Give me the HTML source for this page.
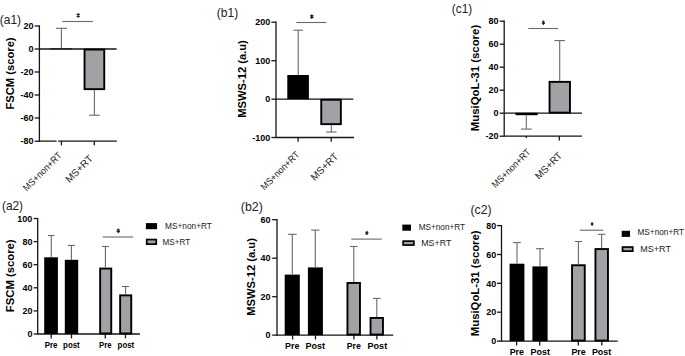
<!DOCTYPE html>
<html><head><meta charset="utf-8"><title>Figure</title>
<style>
html,body{margin:0;padding:0;background:#fff;}
body{width:685px;height:356px;overflow:hidden;}
svg{display:block;}
text{font-family:"Liberation Sans", sans-serif;}
</style></head>
<body>
<svg width="685" height="356" viewBox="0 0 685 356">
<rect x="0" y="0" width="685" height="356" fill="#fff"/>
<line x1="39.40" y1="25.40" x2="39.40" y2="141.90" stroke="#151515" stroke-width="1.3"/>
<line x1="34.70" y1="26.00" x2="39.40" y2="26.00" stroke="#151515" stroke-width="1.3"/>
<text x="33.6" y="29.25" font-size="9" font-weight="bold" text-anchor="end" fill="#000">20</text>
<line x1="34.70" y1="49.00" x2="39.40" y2="49.00" stroke="#151515" stroke-width="1.3"/>
<text x="33.6" y="52.25" font-size="9" font-weight="bold" text-anchor="end" fill="#000">0</text>
<line x1="34.70" y1="72.00" x2="39.40" y2="72.00" stroke="#151515" stroke-width="1.3"/>
<text x="33.6" y="75.25" font-size="9" font-weight="bold" text-anchor="end" fill="#000">-20</text>
<line x1="34.70" y1="95.00" x2="39.40" y2="95.00" stroke="#151515" stroke-width="1.3"/>
<text x="33.6" y="98.25" font-size="9" font-weight="bold" text-anchor="end" fill="#000">-40</text>
<line x1="34.70" y1="118.00" x2="39.40" y2="118.00" stroke="#151515" stroke-width="1.3"/>
<text x="33.6" y="121.25" font-size="9" font-weight="bold" text-anchor="end" fill="#000">-60</text>
<line x1="34.70" y1="141.20" x2="39.40" y2="141.20" stroke="#151515" stroke-width="1.3"/>
<text x="33.6" y="144.45" font-size="9" font-weight="bold" text-anchor="end" fill="#000">-80</text>
<line x1="39.40" y1="49.00" x2="116.60" y2="49.00" stroke="#151515" stroke-width="1.3"/>
<line x1="39.40" y1="141.20" x2="116.80" y2="141.20" stroke="#151515" stroke-width="1.3"/>
<line x1="61.40" y1="141.20" x2="61.40" y2="145.30" stroke="#151515" stroke-width="1.3"/>
<line x1="94.30" y1="141.20" x2="94.30" y2="145.30" stroke="#151515" stroke-width="1.3"/>
<rect x="56.6" y="140" width="1.50" height="2.50" fill="#fff"/>
<rect x="50.4" y="48.1" width="21.90" height="1.40" fill="#222"/>
<line x1="61.40" y1="48.30" x2="61.40" y2="28.30" stroke="#686868" stroke-width="1.1"/>
<line x1="55.90" y1="28.30" x2="66.90" y2="28.30" stroke="#686868" stroke-width="1.1"/>
<rect x="84.55" y="49.55" width="19.70" height="39.60" fill="#a2a1a6" stroke="#000" stroke-width="1.9"/>
<line x1="94.40" y1="90.10" x2="94.40" y2="115.20" stroke="#686868" stroke-width="1.1"/>
<line x1="89.10" y1="115.20" x2="99.70" y2="115.20" stroke="#686868" stroke-width="1.1"/>
<line x1="62.30" y1="21.50" x2="92.90" y2="21.50" stroke="#686868" stroke-width="1.1"/>
<path d="M78.20 12.88L78.20 17.72M76.58 14.16L79.82 16.44M76.58 16.44L79.82 14.16" stroke="#222" stroke-width="1.1" fill="none"/>
<text x="14.0" y="73.5" font-size="11" font-weight="bold" text-anchor="middle" fill="#000" textLength="72.2" lengthAdjust="spacingAndGlyphs" transform="rotate(-90 14.0 73.5)">FSCM (score)</text>
<text x="-0.15" y="23.5" font-size="12.2" font-weight="normal" text-anchor="start" fill="#222" textLength="21.2" lengthAdjust="spacingAndGlyphs">(a1)</text>
<text x="62.45" y="156.0" font-size="9.5" font-weight="normal" text-anchor="end" fill="#222" textLength="50.4" lengthAdjust="spacingAndGlyphs" transform="rotate(-45 62.45 156.0)">MS+non+RT</text>
<text x="93.5" y="159.3" font-size="10" font-weight="normal" text-anchor="end" fill="#222" transform="rotate(-45 93.5 159.3)">MS+RT</text>
<line x1="276.00" y1="21.60" x2="276.00" y2="138.10" stroke="#151515" stroke-width="1.3"/>
<line x1="271.40" y1="22.20" x2="276.00" y2="22.20" stroke="#151515" stroke-width="1.3"/>
<text x="270.3" y="25.45" font-size="9" font-weight="bold" text-anchor="end" fill="#000">200</text>
<line x1="271.40" y1="60.70" x2="276.00" y2="60.70" stroke="#151515" stroke-width="1.3"/>
<text x="270.3" y="63.95" font-size="9" font-weight="bold" text-anchor="end" fill="#000">100</text>
<line x1="271.40" y1="99.20" x2="276.00" y2="99.20" stroke="#151515" stroke-width="1.3"/>
<text x="270.3" y="102.45" font-size="9" font-weight="bold" text-anchor="end" fill="#000">0</text>
<line x1="271.40" y1="137.50" x2="276.00" y2="137.50" stroke="#151515" stroke-width="1.3"/>
<text x="270.3" y="140.75" font-size="9" font-weight="bold" text-anchor="end" fill="#000">-100</text>
<line x1="276.00" y1="99.20" x2="353.30" y2="99.20" stroke="#151515" stroke-width="1.3"/>
<line x1="276.00" y1="137.50" x2="354.00" y2="137.50" stroke="#151515" stroke-width="1.3"/>
<line x1="298.10" y1="137.50" x2="298.10" y2="141.80" stroke="#151515" stroke-width="1.3"/>
<line x1="331.20" y1="137.50" x2="331.20" y2="141.80" stroke="#151515" stroke-width="1.3"/>
<rect x="287.3" y="75" width="21.60" height="24.20" fill="#000"/>
<line x1="298.20" y1="75.00" x2="298.20" y2="30.20" stroke="#686868" stroke-width="1.1"/>
<line x1="293.40" y1="30.20" x2="303.00" y2="30.20" stroke="#686868" stroke-width="1.1"/>
<rect x="321.25" y="99.75" width="19.60" height="24.40" fill="#a2a1a6" stroke="#000" stroke-width="1.9"/>
<line x1="331.30" y1="125.10" x2="331.30" y2="132.00" stroke="#686868" stroke-width="1.1"/>
<line x1="326.10" y1="132.00" x2="336.50" y2="132.00" stroke="#686868" stroke-width="1.1"/>
<line x1="296.40" y1="22.50" x2="326.40" y2="22.50" stroke="#686868" stroke-width="1.1"/>
<path d="M311.80 14.18L311.80 19.02M310.18 15.46L313.42 17.74M310.18 17.74L313.42 15.46" stroke="#222" stroke-width="1.1" fill="none"/>
<text x="245.8" y="79.0" font-size="11" font-weight="bold" text-anchor="middle" fill="#000" textLength="77.6" lengthAdjust="spacingAndGlyphs" transform="rotate(-90 245.8 79.0)">MSWS-12 (a.u)</text>
<text x="216.85" y="17.1" font-size="12.2" font-weight="normal" text-anchor="start" fill="#222" textLength="21.3" lengthAdjust="spacingAndGlyphs">(b1)</text>
<text x="300.05" y="155.2" font-size="9.5" font-weight="normal" text-anchor="end" fill="#222" textLength="50.4" lengthAdjust="spacingAndGlyphs" transform="rotate(-45 300.05 155.2)">MS+non+RT</text>
<text x="338.75" y="157.15" font-size="10" font-weight="normal" text-anchor="end" fill="#222" transform="rotate(-45 338.75 157.15)">MS+RT</text>
<line x1="504.20" y1="20.60" x2="504.20" y2="136.80" stroke="#151515" stroke-width="1.3"/>
<line x1="499.70" y1="21.20" x2="504.20" y2="21.20" stroke="#151515" stroke-width="1.3"/>
<text x="498.5" y="24.45" font-size="9" font-weight="bold" text-anchor="end" fill="#000">80</text>
<line x1="499.70" y1="44.20" x2="504.20" y2="44.20" stroke="#151515" stroke-width="1.3"/>
<text x="498.5" y="47.45" font-size="9" font-weight="bold" text-anchor="end" fill="#000">60</text>
<line x1="499.70" y1="67.20" x2="504.20" y2="67.20" stroke="#151515" stroke-width="1.3"/>
<text x="498.5" y="70.45" font-size="9" font-weight="bold" text-anchor="end" fill="#000">40</text>
<line x1="499.70" y1="90.20" x2="504.20" y2="90.20" stroke="#151515" stroke-width="1.3"/>
<text x="498.5" y="93.45" font-size="9" font-weight="bold" text-anchor="end" fill="#000">20</text>
<line x1="499.70" y1="113.20" x2="504.20" y2="113.20" stroke="#151515" stroke-width="1.3"/>
<text x="498.5" y="116.45" font-size="9" font-weight="bold" text-anchor="end" fill="#000">0</text>
<line x1="499.70" y1="136.20" x2="504.20" y2="136.20" stroke="#151515" stroke-width="1.3"/>
<text x="498.5" y="139.45" font-size="9" font-weight="bold" text-anchor="end" fill="#000">-20</text>
<line x1="504.20" y1="113.20" x2="582.00" y2="113.20" stroke="#151515" stroke-width="1.3"/>
<line x1="504.20" y1="136.20" x2="582.00" y2="136.20" stroke="#151515" stroke-width="1.3"/>
<line x1="526.30" y1="136.20" x2="526.30" y2="137.90" stroke="#151515" stroke-width="1.3"/>
<line x1="559.30" y1="136.20" x2="559.30" y2="140.50" stroke="#151515" stroke-width="1.3"/>
<rect x="515.5" y="112.8" width="22.20" height="2.40" fill="#000"/>
<line x1="526.30" y1="115.00" x2="526.30" y2="129.10" stroke="#686868" stroke-width="1.1"/>
<line x1="520.90" y1="129.10" x2="531.70" y2="129.10" stroke="#686868" stroke-width="1.1"/>
<rect x="549.55" y="81.85" width="20.40" height="30.80" fill="#a2a1a6" stroke="#000" stroke-width="1.9"/>
<line x1="559.70" y1="80.90" x2="559.70" y2="40.60" stroke="#686868" stroke-width="1.1"/>
<line x1="554.40" y1="40.60" x2="565.00" y2="40.60" stroke="#686868" stroke-width="1.1"/>
<line x1="528.30" y1="28.50" x2="558.20" y2="28.50" stroke="#686868" stroke-width="1.1"/>
<path d="M543.40 20.50L543.40 24.90M541.93 21.67L544.87 23.73M541.93 23.73L544.87 21.67" stroke="#222" stroke-width="1.1" fill="none"/>
<text x="479.1" y="78.0" font-size="11" font-weight="bold" text-anchor="middle" fill="#000" textLength="106.4" lengthAdjust="spacingAndGlyphs" transform="rotate(-90 479.1 78.0)">MusiQoL-31 (score)</text>
<text x="451.85" y="12.5" font-size="12.2" font-weight="normal" text-anchor="start" fill="#222" textLength="20.3" lengthAdjust="spacingAndGlyphs">(c1)</text>
<text x="531.2" y="152.75" font-size="9.5" font-weight="normal" text-anchor="end" fill="#222" textLength="50.4" lengthAdjust="spacingAndGlyphs" transform="rotate(-45 531.2 152.75)">MS+non+RT</text>
<text x="562.95" y="156.05" font-size="10" font-weight="normal" text-anchor="end" fill="#222" transform="rotate(-45 562.95 156.05)">MS+RT</text>
<line x1="37.70" y1="217.90" x2="37.70" y2="334.60" stroke="#151515" stroke-width="1.3"/>
<line x1="33.70" y1="218.50" x2="37.70" y2="218.50" stroke="#151515" stroke-width="1.3"/>
<text x="32.4" y="221.75" font-size="9" font-weight="bold" text-anchor="end" fill="#000">100</text>
<line x1="33.70" y1="241.60" x2="37.70" y2="241.60" stroke="#151515" stroke-width="1.3"/>
<text x="32.4" y="244.85" font-size="9" font-weight="bold" text-anchor="end" fill="#000">80</text>
<line x1="33.70" y1="264.70" x2="37.70" y2="264.70" stroke="#151515" stroke-width="1.3"/>
<text x="32.4" y="267.95" font-size="9" font-weight="bold" text-anchor="end" fill="#000">60</text>
<line x1="33.70" y1="287.80" x2="37.70" y2="287.80" stroke="#151515" stroke-width="1.3"/>
<text x="32.4" y="291.05" font-size="9" font-weight="bold" text-anchor="end" fill="#000">40</text>
<line x1="33.70" y1="310.90" x2="37.70" y2="310.90" stroke="#151515" stroke-width="1.3"/>
<text x="32.4" y="314.15" font-size="9" font-weight="bold" text-anchor="end" fill="#000">20</text>
<line x1="33.70" y1="334.00" x2="37.70" y2="334.00" stroke="#151515" stroke-width="1.3"/>
<text x="32.4" y="337.25" font-size="9" font-weight="bold" text-anchor="end" fill="#000">0</text>
<line x1="37.70" y1="334.00" x2="139.90" y2="334.00" stroke="#151515" stroke-width="1.3"/>
<line x1="51.20" y1="334.00" x2="51.20" y2="338.40" stroke="#151515" stroke-width="1.3"/>
<line x1="71.50" y1="334.00" x2="71.50" y2="338.40" stroke="#151515" stroke-width="1.3"/>
<line x1="105.30" y1="334.00" x2="105.30" y2="338.40" stroke="#151515" stroke-width="1.3"/>
<line x1="125.50" y1="334.00" x2="125.50" y2="338.40" stroke="#151515" stroke-width="1.3"/>
<rect x="44.2" y="257.3" width="13.70" height="76.70" fill="#000"/>
<rect x="64.8" y="259.8" width="13.40" height="74.20" fill="#000"/>
<rect x="100.15" y="268.55" width="11.10" height="64.90" fill="#a2a1a6" stroke="#000" stroke-width="1.9"/>
<rect x="120.15" y="295.35" width="11.10" height="38.10" fill="#a2a1a6" stroke="#000" stroke-width="1.9"/>
<line x1="51.30" y1="257.30" x2="51.30" y2="235.50" stroke="#686868" stroke-width="1.1"/>
<line x1="48.00" y1="235.50" x2="54.60" y2="235.50" stroke="#686868" stroke-width="1.1"/>
<line x1="71.40" y1="259.80" x2="71.40" y2="245.40" stroke="#686868" stroke-width="1.1"/>
<line x1="67.80" y1="245.40" x2="75.00" y2="245.40" stroke="#686868" stroke-width="1.1"/>
<line x1="105.40" y1="267.60" x2="105.40" y2="246.50" stroke="#686868" stroke-width="1.1"/>
<line x1="102.00" y1="246.50" x2="108.80" y2="246.50" stroke="#686868" stroke-width="1.1"/>
<line x1="125.60" y1="294.40" x2="125.60" y2="286.50" stroke="#686868" stroke-width="1.1"/>
<line x1="122.00" y1="286.50" x2="129.20" y2="286.50" stroke="#686868" stroke-width="1.1"/>
<line x1="102.70" y1="237.00" x2="133.10" y2="237.00" stroke="#686868" stroke-width="1.1"/>
<path d="M118.30 228.38L118.30 233.22M116.68 229.66L119.92 231.94M116.68 231.94L119.92 229.66" stroke="#222" stroke-width="1.1" fill="none"/>
<text x="51.1" y="347.6" font-size="9.6" font-weight="bold" text-anchor="middle" fill="#000" textLength="12.8" lengthAdjust="spacingAndGlyphs">Pre</text>
<text x="71.4" y="347.6" font-size="9.6" font-weight="bold" text-anchor="middle" fill="#000" textLength="16.6" lengthAdjust="spacingAndGlyphs">post</text>
<text x="105.35" y="347.6" font-size="9.6" font-weight="bold" text-anchor="middle" fill="#000" textLength="12.5" lengthAdjust="spacingAndGlyphs">Pre</text>
<text x="125.9" y="347.6" font-size="9.6" font-weight="bold" text-anchor="middle" fill="#000" textLength="16.6" lengthAdjust="spacingAndGlyphs">post</text>
<rect x="145.9" y="223.1" width="11.20" height="6.10" fill="#000"/>
<rect x="146.75" y="239.55" width="9.5" height="4.6" fill="#a2a1a6" stroke="#000" stroke-width="1.7"/>
<text x="165.1" y="228.8" font-size="8.6" font-weight="normal" text-anchor="start" fill="#222" textLength="46.8" lengthAdjust="spacingAndGlyphs">MS+non+RT</text>
<text x="162.5" y="244.6" font-size="8.6" font-weight="normal" text-anchor="start" fill="#222" textLength="27.6" lengthAdjust="spacingAndGlyphs">MS+RT</text>
<text x="14.2" y="275.8" font-size="11" font-weight="bold" text-anchor="middle" fill="#000" textLength="72.8" lengthAdjust="spacingAndGlyphs" transform="rotate(-90 14.2 275.8)">FSCM (score)</text>
<text x="1.95" y="210.0" font-size="12.2" font-weight="normal" text-anchor="start" fill="#222" textLength="21.1" lengthAdjust="spacingAndGlyphs">(a2)</text>
<line x1="277.00" y1="219.10" x2="277.00" y2="335.70" stroke="#151515" stroke-width="1.3"/>
<line x1="272.20" y1="219.70" x2="277.00" y2="219.70" stroke="#151515" stroke-width="1.3"/>
<text x="270.5" y="222.95" font-size="9" font-weight="bold" text-anchor="end" fill="#000">60</text>
<line x1="272.20" y1="258.20" x2="277.00" y2="258.20" stroke="#151515" stroke-width="1.3"/>
<text x="270.5" y="261.45" font-size="9" font-weight="bold" text-anchor="end" fill="#000">40</text>
<line x1="272.20" y1="296.70" x2="277.00" y2="296.70" stroke="#151515" stroke-width="1.3"/>
<text x="270.5" y="299.95" font-size="9" font-weight="bold" text-anchor="end" fill="#000">20</text>
<line x1="272.20" y1="335.10" x2="277.00" y2="335.10" stroke="#151515" stroke-width="1.3"/>
<text x="270.5" y="338.35" font-size="9" font-weight="bold" text-anchor="end" fill="#000">0</text>
<line x1="277.00" y1="335.10" x2="393.20" y2="335.10" stroke="#151515" stroke-width="1.3"/>
<line x1="292.60" y1="335.10" x2="292.60" y2="339.50" stroke="#151515" stroke-width="1.3"/>
<line x1="315.50" y1="335.10" x2="315.50" y2="339.50" stroke="#151515" stroke-width="1.3"/>
<line x1="353.90" y1="335.10" x2="353.90" y2="339.50" stroke="#151515" stroke-width="1.3"/>
<line x1="376.90" y1="335.10" x2="376.90" y2="339.50" stroke="#151515" stroke-width="1.3"/>
<rect x="284.7" y="274.6" width="15.10" height="60.50" fill="#000"/>
<rect x="307.9" y="267.4" width="15.00" height="67.70" fill="#000"/>
<rect x="347.45" y="282.95" width="12.50" height="51.60" fill="#a2a1a6" stroke="#000" stroke-width="1.9"/>
<rect x="370.55" y="317.95" width="12.40" height="16.60" fill="#a2a1a6" stroke="#000" stroke-width="1.9"/>
<line x1="292.30" y1="274.60" x2="292.30" y2="234.30" stroke="#686868" stroke-width="1.1"/>
<line x1="287.90" y1="234.30" x2="296.70" y2="234.30" stroke="#686868" stroke-width="1.1"/>
<line x1="315.30" y1="267.40" x2="315.30" y2="230.10" stroke="#686868" stroke-width="1.1"/>
<line x1="311.20" y1="230.10" x2="319.40" y2="230.10" stroke="#686868" stroke-width="1.1"/>
<line x1="353.80" y1="282.00" x2="353.80" y2="246.50" stroke="#686868" stroke-width="1.1"/>
<line x1="350.00" y1="246.50" x2="357.60" y2="246.50" stroke="#686868" stroke-width="1.1"/>
<line x1="376.80" y1="317.00" x2="376.80" y2="298.40" stroke="#686868" stroke-width="1.1"/>
<line x1="373.00" y1="298.40" x2="380.60" y2="298.40" stroke="#686868" stroke-width="1.1"/>
<line x1="351.30" y1="239.10" x2="381.70" y2="239.10" stroke="#686868" stroke-width="1.1"/>
<path d="M366.90 230.91L366.90 235.09M365.50 232.02L368.30 233.98M365.50 233.98L368.30 232.02" stroke="#222" stroke-width="1.1" fill="none"/>
<text x="292.25" y="349.4" font-size="9.6" font-weight="bold" text-anchor="middle" fill="#000" textLength="14.3" lengthAdjust="spacingAndGlyphs">Pre</text>
<text x="315.25" y="349.4" font-size="9.6" font-weight="bold" text-anchor="middle" fill="#000" textLength="19.5" lengthAdjust="spacingAndGlyphs">Post</text>
<text x="353.75" y="349.4" font-size="9.6" font-weight="bold" text-anchor="middle" fill="#000" textLength="14.1" lengthAdjust="spacingAndGlyphs">Pre</text>
<text x="377.35" y="349.4" font-size="9.6" font-weight="bold" text-anchor="middle" fill="#000" textLength="19.7" lengthAdjust="spacingAndGlyphs">Post</text>
<rect x="402.3" y="224.6" width="8.70" height="6.10" fill="#000"/>
<rect x="403.15" y="241.15" width="10.7" height="3.9" fill="#a2a1a6" stroke="#000" stroke-width="1.7"/>
<text x="418.7" y="229.6" font-size="8.6" font-weight="normal" text-anchor="start" fill="#222" textLength="46.4" lengthAdjust="spacingAndGlyphs">MS+non+RT</text>
<text x="421.2" y="245.9" font-size="8.6" font-weight="normal" text-anchor="start" fill="#222" textLength="30.2" lengthAdjust="spacingAndGlyphs">MS+RT</text>
<text x="255.0" y="276.9" font-size="11" font-weight="bold" text-anchor="middle" fill="#000" textLength="77.6" lengthAdjust="spacingAndGlyphs" transform="rotate(-90 255.0 276.9)">MSWS-12 (a.u)</text>
<text x="240.85" y="211.0" font-size="12.2" font-weight="normal" text-anchor="start" fill="#222" textLength="22.0" lengthAdjust="spacingAndGlyphs">(b2)</text>
<line x1="501.50" y1="225.00" x2="501.50" y2="341.70" stroke="#151515" stroke-width="1.3"/>
<line x1="497.00" y1="225.60" x2="501.50" y2="225.60" stroke="#151515" stroke-width="1.3"/>
<text x="496.2" y="228.85" font-size="9" font-weight="bold" text-anchor="end" fill="#000">80</text>
<line x1="497.00" y1="254.50" x2="501.50" y2="254.50" stroke="#151515" stroke-width="1.3"/>
<text x="496.2" y="257.75" font-size="9" font-weight="bold" text-anchor="end" fill="#000">60</text>
<line x1="497.00" y1="283.30" x2="501.50" y2="283.30" stroke="#151515" stroke-width="1.3"/>
<text x="496.2" y="286.55" font-size="9" font-weight="bold" text-anchor="end" fill="#000">40</text>
<line x1="497.00" y1="312.20" x2="501.50" y2="312.20" stroke="#151515" stroke-width="1.3"/>
<text x="496.2" y="315.45" font-size="9" font-weight="bold" text-anchor="end" fill="#000">20</text>
<line x1="497.00" y1="341.10" x2="501.50" y2="341.10" stroke="#151515" stroke-width="1.3"/>
<text x="496.2" y="344.35" font-size="9" font-weight="bold" text-anchor="end" fill="#000">0</text>
<line x1="501.50" y1="341.10" x2="617.70" y2="341.10" stroke="#151515" stroke-width="1.3"/>
<line x1="516.60" y1="341.10" x2="516.60" y2="345.40" stroke="#151515" stroke-width="1.3"/>
<line x1="539.70" y1="341.10" x2="539.70" y2="345.40" stroke="#151515" stroke-width="1.3"/>
<line x1="578.30" y1="341.10" x2="578.30" y2="345.40" stroke="#151515" stroke-width="1.3"/>
<line x1="601.80" y1="341.10" x2="601.80" y2="345.40" stroke="#151515" stroke-width="1.3"/>
<rect x="509.6" y="263.7" width="14.80" height="77.40" fill="#000"/>
<rect x="532.4" y="266.4" width="15.20" height="74.70" fill="#000"/>
<rect x="572.05" y="265.25" width="12.70" height="75.30" fill="#a2a1a6" stroke="#000" stroke-width="1.9"/>
<rect x="595.45" y="249.05" width="12.50" height="91.50" fill="#a2a1a6" stroke="#000" stroke-width="1.9"/>
<line x1="517.00" y1="263.70" x2="517.00" y2="242.60" stroke="#686868" stroke-width="1.1"/>
<line x1="513.10" y1="242.60" x2="520.90" y2="242.60" stroke="#686868" stroke-width="1.1"/>
<line x1="540.00" y1="266.40" x2="540.00" y2="248.70" stroke="#686868" stroke-width="1.1"/>
<line x1="536.00" y1="248.70" x2="544.00" y2="248.70" stroke="#686868" stroke-width="1.1"/>
<line x1="578.40" y1="264.30" x2="578.40" y2="241.50" stroke="#686868" stroke-width="1.1"/>
<line x1="574.80" y1="241.50" x2="582.00" y2="241.50" stroke="#686868" stroke-width="1.1"/>
<line x1="601.60" y1="248.10" x2="601.60" y2="234.30" stroke="#686868" stroke-width="1.1"/>
<line x1="597.80" y1="234.30" x2="605.40" y2="234.30" stroke="#686868" stroke-width="1.1"/>
<line x1="579.80" y1="230.20" x2="603.40" y2="230.20" stroke="#686868" stroke-width="1.1"/>
<path d="M592.10 222.24L592.10 225.76M590.92 223.17L593.28 224.83M590.92 224.83L593.28 223.17" stroke="#222" stroke-width="1.1" fill="none"/>
<text x="516.85" y="355.0" font-size="9.6" font-weight="bold" text-anchor="middle" fill="#000" textLength="14.3" lengthAdjust="spacingAndGlyphs">Pre</text>
<text x="540.3" y="355.0" font-size="9.6" font-weight="bold" text-anchor="middle" fill="#000" textLength="19.4" lengthAdjust="spacingAndGlyphs">Post</text>
<text x="578.55" y="355.0" font-size="9.6" font-weight="bold" text-anchor="middle" fill="#000" textLength="14.3" lengthAdjust="spacingAndGlyphs">Pre</text>
<text x="601.6" y="355.0" font-size="9.6" font-weight="bold" text-anchor="middle" fill="#000" textLength="19.4" lengthAdjust="spacingAndGlyphs">Post</text>
<rect x="621.7" y="230.8" width="8.30" height="6.10" fill="#000"/>
<rect x="622.55" y="247.05" width="10.2" height="4.1" fill="#a2a1a6" stroke="#000" stroke-width="1.7"/>
<text x="637.5" y="234.9" font-size="8.6" font-weight="normal" text-anchor="start" fill="#222" textLength="46.6" lengthAdjust="spacingAndGlyphs">MS+non+RT</text>
<text x="640.3" y="251.8" font-size="8.6" font-weight="normal" text-anchor="start" fill="#222" textLength="30.6" lengthAdjust="spacingAndGlyphs">MS+RT</text>
<text x="479.4" y="283.3" font-size="11" font-weight="bold" text-anchor="middle" fill="#000" textLength="105.8" lengthAdjust="spacingAndGlyphs" transform="rotate(-90 479.4 283.3)">MusiQoL-31 (score)</text>
<text x="470.55" y="213.5" font-size="12.2" font-weight="normal" text-anchor="start" fill="#222" textLength="21.0" lengthAdjust="spacingAndGlyphs">(c2)</text>
</svg>
</body></html>
